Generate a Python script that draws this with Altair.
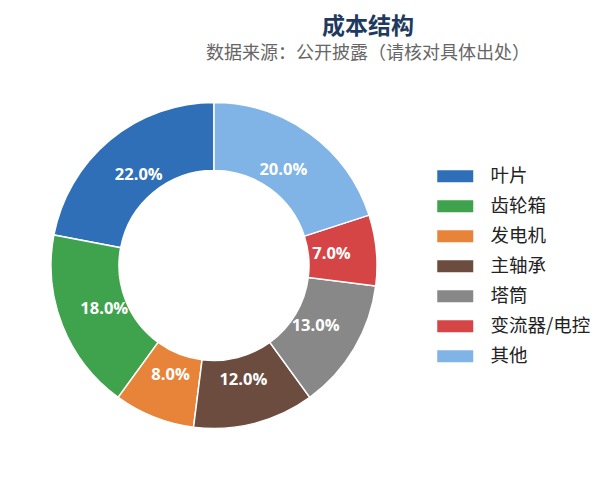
import altair as alt
import pandas as pd

categories = ["叶片", "齿轮箱", "发电机", "主轴承", "塔筒", "变流器/电控", "其他"]
values = [22.0, 18.0, 8.0, 12.0, 13.0, 7.0, 20.0]
colors = ["#2f6fb8", "#3fa34d", "#e8843a", "#6b4c3f", "#888888", "#d64545", "#80b3e6"]
# clockwise drawing order (so the legend order runs counter-clockwise from the top)
clock_order = [6, 5, 4, 3, 2, 1, 0]

df = pd.DataFrame({
    "cat": categories,
    "value": values,
    "ord": clock_order,
    "label": [f"{v:.1f}%" for v in values],
})

FONT = "Noto Sans CJK SC"

base = alt.Chart(df).encode(
    theta=alt.Theta("value:Q", stack=True),
    order=alt.Order("ord:Q", sort="ascending"),
)

ring = base.mark_arc(innerRadius=95, outerRadius=163, stroke="white", strokeWidth=1.5).encode(
    color=alt.Color(
        "cat:N",
        scale=alt.Scale(domain=categories, range=colors),
        sort=categories,
        legend=alt.Legend(
            title=None,
            orient="none",
            legendX=433,
            legendY=79,
            symbolType="M-3,-1H3V1H-3Z",
            symbolSize=144,
            symbolStrokeWidth=0,
            symbolOpacity=1,
            labelFont=FONT,
            labelFontSize=18.5,
            labelColor="#222222",
            labelOffset=26,
            rowPadding=11,
        ),
    ),
)

labels = base.mark_text(
    radius=118, font="Open Sans", fontSize=16.5, fontWeight="bold", color="white",
    align="center", baseline="middle",
).encode(text="label:N")

chart = (ring + labels).properties(
    width=402,
    height=355,
    autosize=alt.AutoSizeParams(type="none"),
    padding={"left": 5, "top": 80, "right": 182, "bottom": 30},
    title=alt.TitleParams(
        text="成本结构",
        subtitle="数据来源：公开披露（请核对具体出处）",
        anchor="start",
        align="center",
        dx=355,
        offset=25,
        font=FONT,
        fontSize=23,
        fontWeight="bold",
        color="#1f3a5f",
        subtitleFont=FONT,
        subtitleFontSize=18,
        subtitleColor="#666666",
        subtitlePadding=6,
    ),
).configure_view(stroke=None)

chart.save("out.html", embed_options={"renderer": "svg", "actions": False})
